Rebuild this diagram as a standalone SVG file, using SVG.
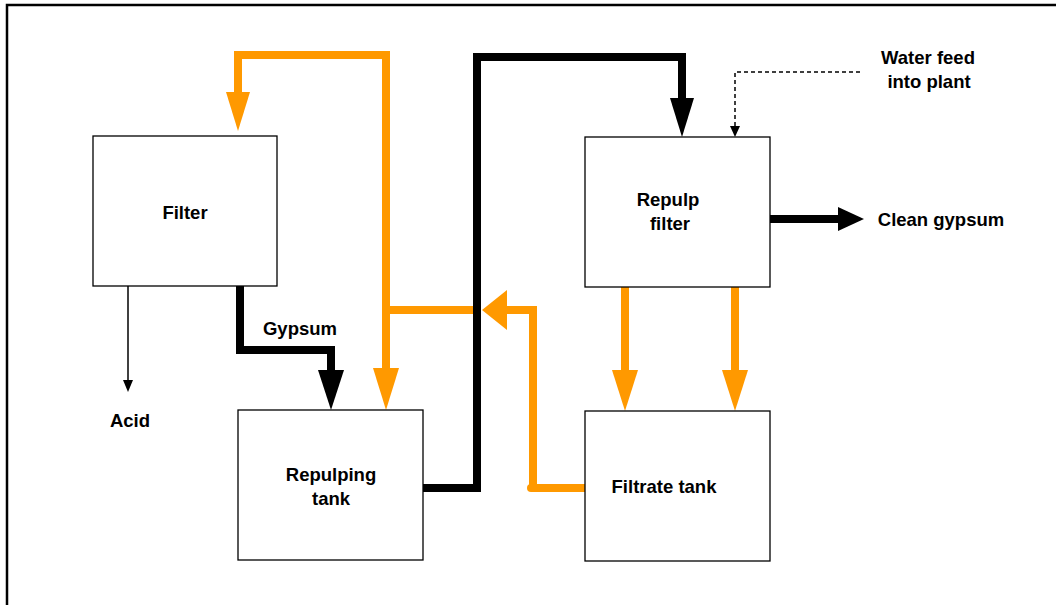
<svg xmlns="http://www.w3.org/2000/svg" width="1056" height="605" viewBox="0 0 1056 605">
<style>
.box{fill:#fff;stroke:#000;stroke-width:1.3}
.lbl{font-family:"Liberation Sans",Arial,sans-serif;font-weight:bold;font-size:18.5px;fill:#000;text-anchor:middle}
.or{fill:none;stroke:#FF9900;stroke-width:8}
.bk{fill:none;stroke:#000;stroke-width:8}
.orh{fill:#FF9900}
.bkh{fill:#000}
</style>
<rect width="1056" height="605" fill="#fff"/>
<path d="M7,605 V5 H1056" fill="none" stroke="#000" stroke-width="2.5"/>
<g id="connectors">
  <path class="or" d="M386,315 V55 H238 V96"/>
  <polygon class="orh" points="226,92 250,92 238,131"/>
  <path class="or" d="M386,300 V372"/>
  <polygon class="orh" points="373,368 399,368 386,410"/>
  <path class="or" d="M386,310 H473" stroke-linecap="round"/>
  <path class="or" d="M585,488 H531" stroke-linecap="round"/>
  <path class="or" d="M533,488 V310 H505"/>
  <polygon class="orh" points="482,310 507,290 507,330"/>
  <path class="bk" d="M423,488 H477 V57 H682 V102"/>
  <polygon class="bkh" points="670,98 694,98 682,137"/>
  <path class="bk" d="M240,286 V350 H331 V375"/>
  <polygon class="bkh" points="318,370 344,370 331,410"/>
  <line x1="128" y1="286" x2="128" y2="382" stroke="#000" stroke-width="1.5"/>
  <polygon class="bkh" points="123,380 133,380 128,392"/>
  <path d="M860,72 H735 V128" fill="none" stroke="#000" stroke-width="1.5" stroke-dasharray="4,3"/>
  <polygon class="bkh" points="730,126 740,126 735,137"/>
  <path class="bk" d="M770,219 H840"/>
  <polygon class="bkh" points="838,207 864,219 838,231"/>
  <path class="or" d="M625,287 V372"/>
  <polygon class="orh" points="612,370 638,370 625,411"/>
  <path class="or" d="M735,287 V372"/>
  <polygon class="orh" points="722,370 748,370 735,411"/>
</g>
<g id="filter">
  <rect class="box" x="93" y="136" width="184" height="150"/>
  <text class="lbl" x="185" y="219">Filter</text>
</g>
<g id="repulping-tank">
  <rect class="box" x="238" y="410" width="185" height="150"/>
  <text class="lbl" x="331" y="481">Repulping</text>
  <text class="lbl" x="331" y="505">tank</text>
</g>
<g id="repulp-filter">
  <rect class="box" x="585" y="137" width="185" height="150"/>
  <text class="lbl" x="668" y="206">Repulp</text>
  <text class="lbl" x="670" y="230">filter</text>
</g>
<g id="filtrate-tank">
  <rect class="box" x="585" y="411" width="185" height="150"/>
  <text class="lbl" x="664" y="493">Filtrate tank</text>
</g>
<g id="labels">
  <text class="lbl" x="300" y="335">Gypsum</text>
  <text class="lbl" x="130" y="427">Acid</text>
  <text class="lbl" x="928" y="64">Water feed</text>
  <text class="lbl" x="929" y="88">into plant</text>
  <text class="lbl" x="941" y="226">Clean gypsum</text>
</g>
</svg>
